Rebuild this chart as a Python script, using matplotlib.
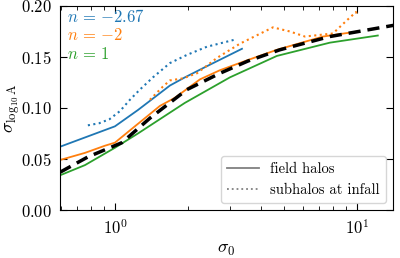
import matplotlib
matplotlib.use("Agg")
import matplotlib.pyplot as plt
from matplotlib.lines import Line2D

plt.rcParams['mathtext.fontset'] = 'cm'
plt.rcParams['font.family'] = 'serif'
plt.rcParams['font.serif'] = ['cmr10', 'DejaVu Serif']
plt.rcParams['axes.formatter.use_mathtext'] = True
plt.rcParams['font.size'] = 10

# field halos
blue_x = [0.593, 1.0, 1.245, 1.688, 1.946, 2.311, 3.35]
blue_y = [0.062, 0.082, 0.098, 0.122, 0.130, 0.139, 0.158]
orange_x = [0.593, 0.752, 0.909, 1.0, 1.153, 1.330, 1.534, 1.770, 2.245, 2.716, 3.545, 4.67, 7.24, 10.09]
orange_y = [0.049, 0.056, 0.063, 0.066, 0.078, 0.090, 0.102, 0.110, 0.128, 0.137, 0.147, 0.157, 0.170, 0.175]
green_x = [0.593, 0.752, 1.0, 1.245, 1.946, 2.987, 4.67, 7.73, 12.2]
green_y = [0.034, 0.044, 0.061, 0.075, 0.105, 0.130, 0.151, 0.164, 0.171]

# subhalos at infall
blue_sub_x = [0.773, 0.860, 0.950, 1.050, 1.153, 1.268, 1.436, 1.688, 1.984, 2.399, 3.133]
blue_sub_y = [0.083, 0.085, 0.089, 0.097, 0.108, 0.118, 0.130, 0.144, 0.152, 0.160, 0.167]
orange_sub_x = [1.395, 1.579, 1.688, 1.910, 2.182, 2.640, 3.285, 4.497, 5.28, 6.10, 7.96, 9.10, 9.91, 10.09]
orange_sub_y = [0.108, 0.121, 0.127, 0.129, 0.134, 0.149, 0.163, 0.179, 0.175, 0.170, 0.173, 0.186, 0.194, 0.190]

# fit
fit_x = [0.593, 0.773, 1.069, 1.395, 1.984, 2.716, 3.545, 4.80, 7.73, 15.0]
fit_y = [0.037, 0.052, 0.066, 0.090, 0.118, 0.134, 0.146, 0.157, 0.170, 0.182]

labels_n = [r'$n\,=\,{-2.67}$', r'$n\,=\,{-2}$', r'$n\,=\,1$']
colors = ['tab:blue', 'tab:orange', 'tab:green']

fig = plt.figure(figsize=(4.0, 2.58), dpi=100)
ax = fig.add_axes([0.15, 0.186, 0.8325, 0.791])

ax.plot(blue_x, blue_y, color=colors[0], lw=1.3)
ax.plot(orange_x, orange_y, color=colors[1], lw=1.3)
ax.plot(green_x, green_y, color=colors[2], lw=1.3)
ax.plot(blue_sub_x, blue_sub_y, color=colors[0], lw=1.5, ls=':')
ax.plot(orange_sub_x, orange_sub_y, color=colors[1], lw=1.5, ls=':')
ax.plot(fit_x, fit_y, color='black', lw=2.5, ls=(0, (3.5, 2)))

ax.set_xscale('log')
ax.set_xlim(0.593, 14.1)
ax.set_ylim(0.0, 0.2)
ax.set_yticks([0.0, 0.05, 0.10, 0.15, 0.20])
ax.tick_params(which='both', direction='in', top=True, right=True, labelsize=12, pad=6)
ax.tick_params(which='major', length=5)
ax.tick_params(which='minor', length=3)

ax.set_xlabel(r'$\sigma_0$', fontsize=13)
ax.xaxis.set_label_coords(0.5, -0.158)
ax.set_ylabel(r'$\sigma_{\log_{10}\mathrm{A}}$', fontsize=13)
ax.yaxis.set_label_coords(-0.115, 0.5)

for i, (lab, c) in enumerate(zip(labels_n, colors)):
    ax.text(0.022, 0.95 - i * 0.093, lab, color=c, transform=ax.transAxes,
            ha='left', va='center', fontsize=12)

handles = [Line2D([], [], color='gray', lw=1.3),
           Line2D([], [], color='gray', lw=1.3, ls=':')]
ax.legend(handles, ['field halos', 'subhalos at infall'], loc='lower right',
          fontsize=10.5, handlelength=2.2)

fig.savefig('out.png', dpi=100)
